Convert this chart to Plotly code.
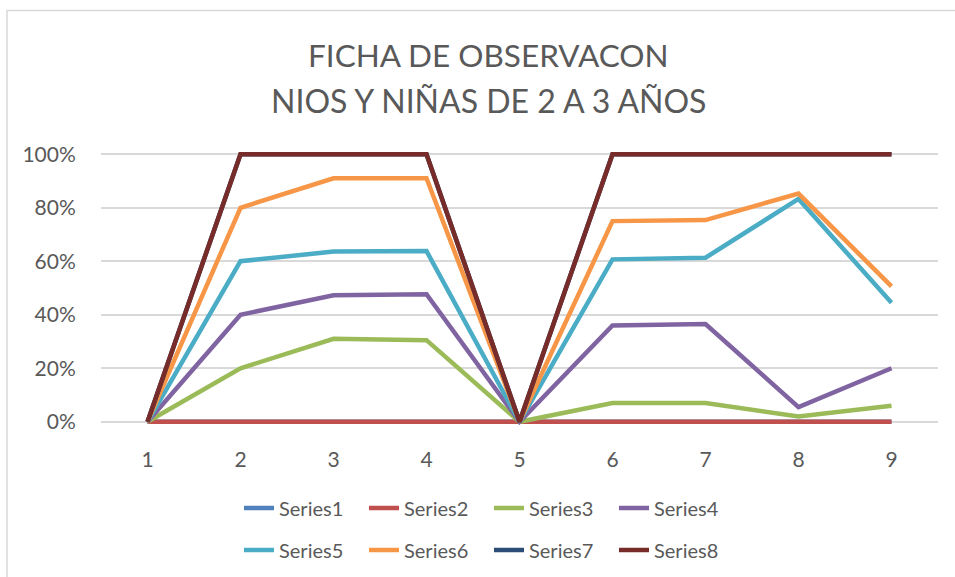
import plotly.graph_objects as go

categories = [1, 2, 3, 4, 5, 6, 7, 8, 9]
series1 = [0, 0, 0, 0, 0, 0, 0, 0, 0]
series2 = [0, 0, 0, 0, 0, 0, 0, 0, 0]
series3 = [0, 0.20, 0.31, 0.305, 0, 0.07, 0.07, 0.02, 0.06]
series4 = [0, 0.40, 0.473, 0.477, 0, 0.36, 0.365, 0.055, 0.20]
series5 = [0, 0.60, 0.636, 0.638, 0, 0.607, 0.613, 0.833, 0.445]
series6 = [0, 0.80, 0.91, 0.91, 0, 0.75, 0.754, 0.853, 0.506]
series7 = [0, 1.0, 1.0, 1.0, 0, 1.0, 1.0, 1.0, 1.0]
series8 = [0, 1.0, 1.0, 1.0, 0, 1.0, 1.0, 1.0, 1.0]
names = ["Series1", "Series2", "Series3", "Series4", "Series5", "Series6", "Series7", "Series8"]
values = [series1, series2, series3, series4, series5, series6, series7, series8]
colors = ["#4F81BD", "#C0504D", "#9BBB59", "#8064A2", "#4BACC6", "#F79646", "#2C4D75", "#772C2A"]
tick_vals = [0, 0.2, 0.4, 0.6, 0.8, 1.0]
tick_text = ["0%", "20%", "40%", "60%", "80%", "100%"]
title_lines = ["FICHA DE OBSERVACON", "NIOS Y NIÑAS DE 2 A 3 AÑOS"]

FONT = "Lato"
TXT = "#595959"

# pixel geometry of the plot area (value 0 -> y 422, value 1 -> y 154)
W, H = 955, 577
PAD = 0.012
y0_px, y1_px = 422, 154
unit = (y0_px - y1_px)
top = y1_px - PAD * unit
bottom = y0_px + PAD * unit
ph = bottom - top
left, right = 101, 938
pw = right - left


def py(px):  # pixel y -> paper y
    return (bottom - px) / ph


def pxx(px):  # pixel x -> paper x
    return (px - left) / pw


fig = go.Figure()
for i, (n, v, c) in enumerate(zip(names, values, colors)):
    fig.add_trace(go.Scatter(
        x=categories, y=v, name=n, mode="lines",
        line=dict(color=c, width=4.5),
        legend="legend" if i < 4 else "legend2",
    ))

legend_common = dict(
    orientation="h", xref="container", yref="container",
    xanchor="left", yanchor="middle", entrywidth=80, entrywidthmode="pixels",
    font=dict(family=FONT, size=20, color=TXT), bgcolor="rgba(0,0,0,0)",
    tracegroupgap=0, itemwidth=30,
)

fig.update_layout(
    width=W, height=H,
    margin=dict(l=left, r=W - right, t=top, b=H - bottom),
    paper_bgcolor="white", plot_bgcolor="white",
    annotations=[
        dict(text=title_lines[0], x=pxx(488), y=py(55), xref="paper", yref="paper",
             xanchor="center", yanchor="middle", showarrow=False,
             font=dict(family=FONT, size=31.5, color=TXT)),
        dict(text=title_lines[1], x=pxx(488), y=py(100), xref="paper", yref="paper",
             xanchor="center", yanchor="middle", showarrow=False,
             font=dict(family=FONT, size=32, color=TXT)),
    ],
    xaxis=dict(
        type="linear", range=[0.5, 9.5], tickvals=categories,
        showgrid=False, zeroline=False, showline=False,
        ticks="outside", ticklen=16, tickcolor="rgba(0,0,0,0)",
        tickfont=dict(family=FONT, size=21, color=TXT),
    ),
    yaxis=dict(
        range=[-PAD, 1 + PAD], tickvals=tick_vals, ticktext=tick_text,
        showgrid=True, gridcolor="#D9D9D9", gridwidth=1.5,
        zeroline=False, showline=False,
        ticks="outside", ticklen=20, tickcolor="rgba(0,0,0,0)",
        tickfont=dict(family=FONT, size=21, color=TXT),
    ),
    legend=dict(legend_common, x=239 / W, y=1 - 508 / H),
    legend2=dict(legend_common, x=239 / W, y=1 - 550 / H),
    shapes=[dict(type="rect", xref="paper", yref="paper",
                 x0=pxx(7), x1=pxx(990), y0=py(620), y1=py(10),
                 line=dict(color="#D9D9D9", width=1.5), fillcolor="rgba(0,0,0,0)",
                 layer="below")],
)

fig.write_html("out.html", config={"displayModeBar": False},
               post_script="document.body.style.margin='0';document.body.style.overflow='hidden';")
